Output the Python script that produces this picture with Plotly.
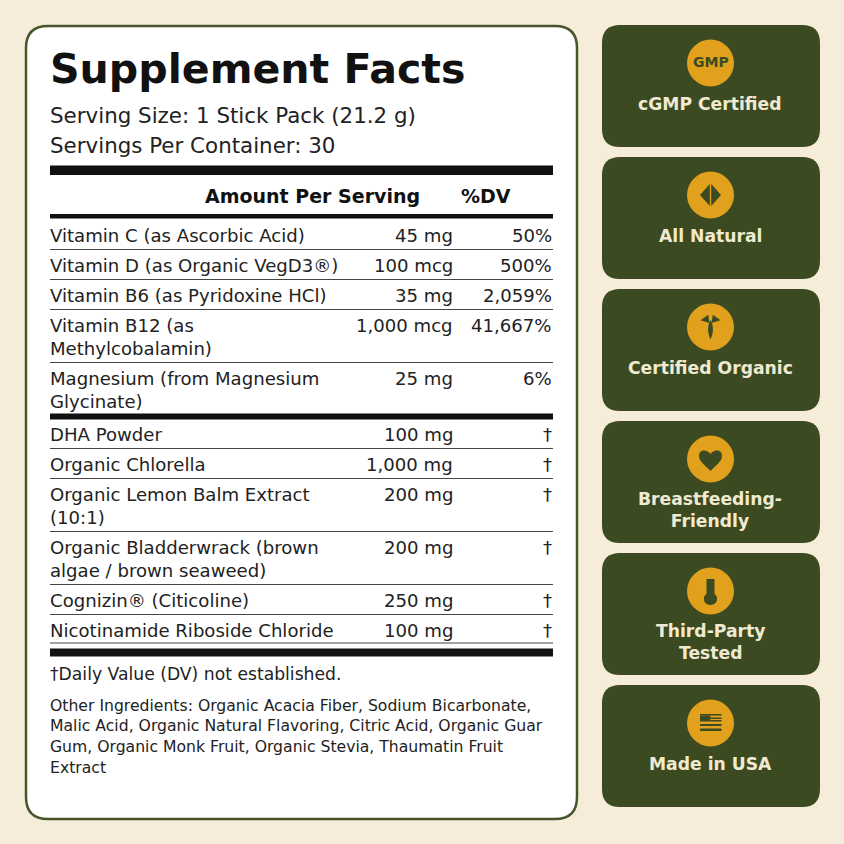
# Purpose: Supplement facts panel with certification badges

# Imports
import plotly.graph_objects as go

# Globals

TITLE = "Supplement Facts"
SERVING_LINES = ["Serving Size: 1 Stick Pack (21.2 g)", "Servings Per Container: 30"]
HEADER_LABELS = ["Amount Per Serving", "%DV"]

# Vitamins and minerals, above the heavy rule
VITAMIN_NAMES = [
    "Vitamin C (as Ascorbic Acid)",
    "Vitamin D (as Organic VegD3®)",
    "Vitamin B6 (as Pyridoxine HCl)",
    "Vitamin B12 (as<br>Methylcobalamin)",
    "Magnesium (from Magnesium<br>Glycinate)",
]
VITAMIN_AMOUNTS = ["45 mg", "100 mcg", "35 mg", "1,000 mcg", "25 mg"]
VITAMIN_DV = ["50%", "500%", "2,059%", "41,667%", "6%"]

# Other actives, below the heavy rule
OTHER_NAMES = [
    "DHA Powder",
    "Organic Chlorella",
    "Organic Lemon Balm Extract<br>(10:1)",
    "Organic Bladderwrack (brown<br>algae / brown seaweed)",
    "Cognizin® (Citicoline)",
    "Nicotinamide Riboside Chloride",
]
OTHER_AMOUNTS = ["100 mg", "1,000 mg", "200 mg", "200 mg", "250 mg", "100 mg"]
OTHER_DV = ["†", "†", "†", "†", "†", "†"]

FOOTNOTE = "†Daily Value (DV) not established."
OTHER_INGREDIENTS = [
    "Other Ingredients: Organic Acacia Fiber, Sodium Bicarbonate,",
    "Malic Acid, Organic Natural Flavoring, Citric Acid, Organic Guar",
    "Gum, Organic Monk Fruit, Organic Stevia, Thaumatin Fruit",
    "Extract",
]

BADGE_LABELS = [
    "cGMP Certified",
    "All Natural",
    "Certified Organic",
    "Breastfeeding-<br>Friendly",
    "Third-Party<br>Tested",
    "Made in USA",
]

# Colors
CREAM = "#f5ecd9"
GREEN = "#3b4a20"
GOLD = "#e2a11d"
BLACK = "#111111"
TEXT = "#222222"

FONT = "DejaVu Sans"

# Icon outlines, relative to the centre of the gold circle
ICONS = [
    [],
    ["M-0.7,-11 L-10.5,0 L-0.7,11 Z", "M0.7,-11 L10.5,0 L0.7,11 Z"],
    [
        "M-10,-6.7 L-2.3,-12.3 L-1,-4 Z",
        "M10,-6.7 L2.3,-12.3 L1,-4 Z",
        "M0,-7 C3,-2 3.5,5 0,12.5 C-3.5,5 -3,-2 0,-7 Z",
    ],
    ["M0,12 C-4,7 -11.5,3 -11.5,-3 C-11.5,-10 -3,-10 0,-5 C3,-10 11.5,-10 11.5,-3 C11.5,3 4,7 0,12 Z"],
    [
        "M-4,-12 L4,-12 L4,3 C8,5 8,14 0,14 C-8,14 -8,5 -4,3 Z",
    ],
    [
        "M-10.5,-9 L11,-9 L11,-7.5 L-10.5,-7.5 Z",
        "M-10.5,-7.5 L0,-7.5 L0,-1.5 L-10.5,-1.5 Z",
        "M0,-5.5 L11,-5.5 L11,-4 L0,-4 Z",
        "M0,-3 L11,-3 L11,-1.5 L0,-1.5 Z",
        "M-10.5,1 L11,1 L11,3 L-10.5,3 Z",
        "M-10.5,5.5 L11,5.5 L11,8 L-10.5,8 Z",
    ],
]


# Functions

def rounded_rect(x0, y0, x1, y1, r):
    return (
        f"M{x0 + r},{y0} L{x1 - r},{y0} Q{x1},{y0} {x1},{y0 + r} "
        f"L{x1},{y1 - r} Q{x1},{y1} {x1 - r},{y1} "
        f"L{x0 + r},{y1} Q{x0},{y1} {x0},{y1 - r} "
        f"L{x0},{y0 + r} Q{x0},{y0} {x0 + r},{y0} Z"
    )


def shift_path(path, cx, cy):
    # Move an icon outline onto its badge
    parts = []
    for token in path.split(" "):
        letter = ""
        if token[0].isalpha():
            letter = token[0]
            token = token[1:]
        if token:
            px, py = token.split(",")
            parts.append(f"{letter}{float(px) + cx},{float(py) + cy}")
        else:
            parts.append(letter)
    return " ".join(parts)


shapes = []
annotations = []


def add_text(x, y, text, size, anchor="left", color=TEXT, bold=False, yanchor="middle"):
    annotations.append(dict(
        x=x, y=y, xref="x", yref="y", text=f"<b>{text}</b>" if bold else text,
        showarrow=False, xanchor=anchor, yanchor=yanchor, align=anchor,
        font=dict(family=FONT, size=size, color=color),
        xshift=0, yshift=0, borderpad=0, borderwidth=0,
    ))


def add_bar(y0, y1):
    shapes.append(dict(type="rect", x0=50, x1=553, y0=y0, y1=y1,
                       fillcolor=BLACK, line=dict(width=0), layer="above"))


def add_rule(y):
    shapes.append(dict(type="line", x0=50, x1=553, y0=y, y1=y,
                       line=dict(color="#444444", width=1.2)))


def add_rows(names, amounts, dvs, start_y):
    # Each row is 30px for one line, 23px more for a second line
    y = start_y
    for i in range(len(names)):
        name_lines = names[i].split("<br>")
        for j in range(len(name_lines)):
            add_text(49.5, y - 1 + j * 23, name_lines[j], 18.1)
        add_text(453, y - 1, amounts[i], 18.1, anchor="right")
        add_text(552, y - 1, dvs[i], 18.1, anchor="right")
        rule_y = y + 13.5 + (len(name_lines) - 1) * 23
        if i != len(names) - 1:
            add_rule(rule_y)
        y = rule_y + 16.5
    return y


# Main panel
shapes.append(dict(type="path", path=rounded_rect(26, 26, 577, 819, 22),
                   fillcolor="#ffffff", line=dict(color="#47552a", width=2.5)))

add_text(49.5, 69, TITLE, 41.1, color=BLACK, bold=True)
add_text(49.5, 115, SERVING_LINES[0], 21.4)
add_text(49.5, 145, SERVING_LINES[1], 21.4)

add_bar(165.5, 175)
add_text(420, 196, HEADER_LABELS[0], 19, anchor="right", color=BLACK, bold=True)
add_text(511, 196, HEADER_LABELS[1], 19, anchor="right", color=BLACK, bold=True)
add_bar(214, 218.5)

add_rows(VITAMIN_NAMES, VITAMIN_AMOUNTS, VITAMIN_DV, 236)
add_bar(413.5, 419.5)
add_rows(OTHER_NAMES, OTHER_AMOUNTS, OTHER_DV, 435)
add_bar(648.5, 656.5)
add_rule(643)

add_text(49.5, 674, FOOTNOTE, 17.2)
for i in range(len(OTHER_INGREDIENTS)):
    add_text(49.5, 705 + i * 20.7, OTHER_INGREDIENTS[i], 15.65)

# Badges
for i in range(len(BADGE_LABELS)):
    top = 25 + 132 * i
    cx = 710.5
    cy = top + 38
    shapes.append(dict(type="path", path=rounded_rect(602, top, 820, top + 122, 18),
                       fillcolor=GREEN, line=dict(width=0)))
    shapes.append(dict(type="circle", x0=cx - 23.5, x1=cx + 23.5, y0=cy - 23.5, y1=cy + 23.5,
                       fillcolor=GOLD, line=dict(width=0)))
    for icon_path in ICONS[i]:
        shapes.append(dict(type="path", path=shift_path(icon_path, cx, cy),
                           fillcolor=GREEN, line=dict(width=0)))
    if "<br>" in BADGE_LABELS[i]:
        add_text(cx - 0.5, top + 89, BADGE_LABELS[i], 17.2, anchor="center", color="#f0ead2", bold=True)
    else:
        add_text(cx - 0.5, top + 79, BADGE_LABELS[i], 17.2, anchor="center", color="#f0ead2", bold=True)

add_text(710.5, 62, "GMP", 14, anchor="center", color=GREEN, bold=True)

fig = go.Figure()
fig.update_layout(
    width=844, height=844,
    margin=dict(l=0, r=0, t=0, b=0),
    paper_bgcolor=CREAM, plot_bgcolor=CREAM,
    xaxis=dict(range=[0, 844], visible=False, fixedrange=True),
    yaxis=dict(range=[844, 0], visible=False, fixedrange=True),
    shapes=shapes, annotations=annotations,
    showlegend=False,
)

fig.write_html("out.html", config={"displayModeBar": False},
               post_script="document.body.style.margin='0';document.body.style.background='" + CREAM + "';")
